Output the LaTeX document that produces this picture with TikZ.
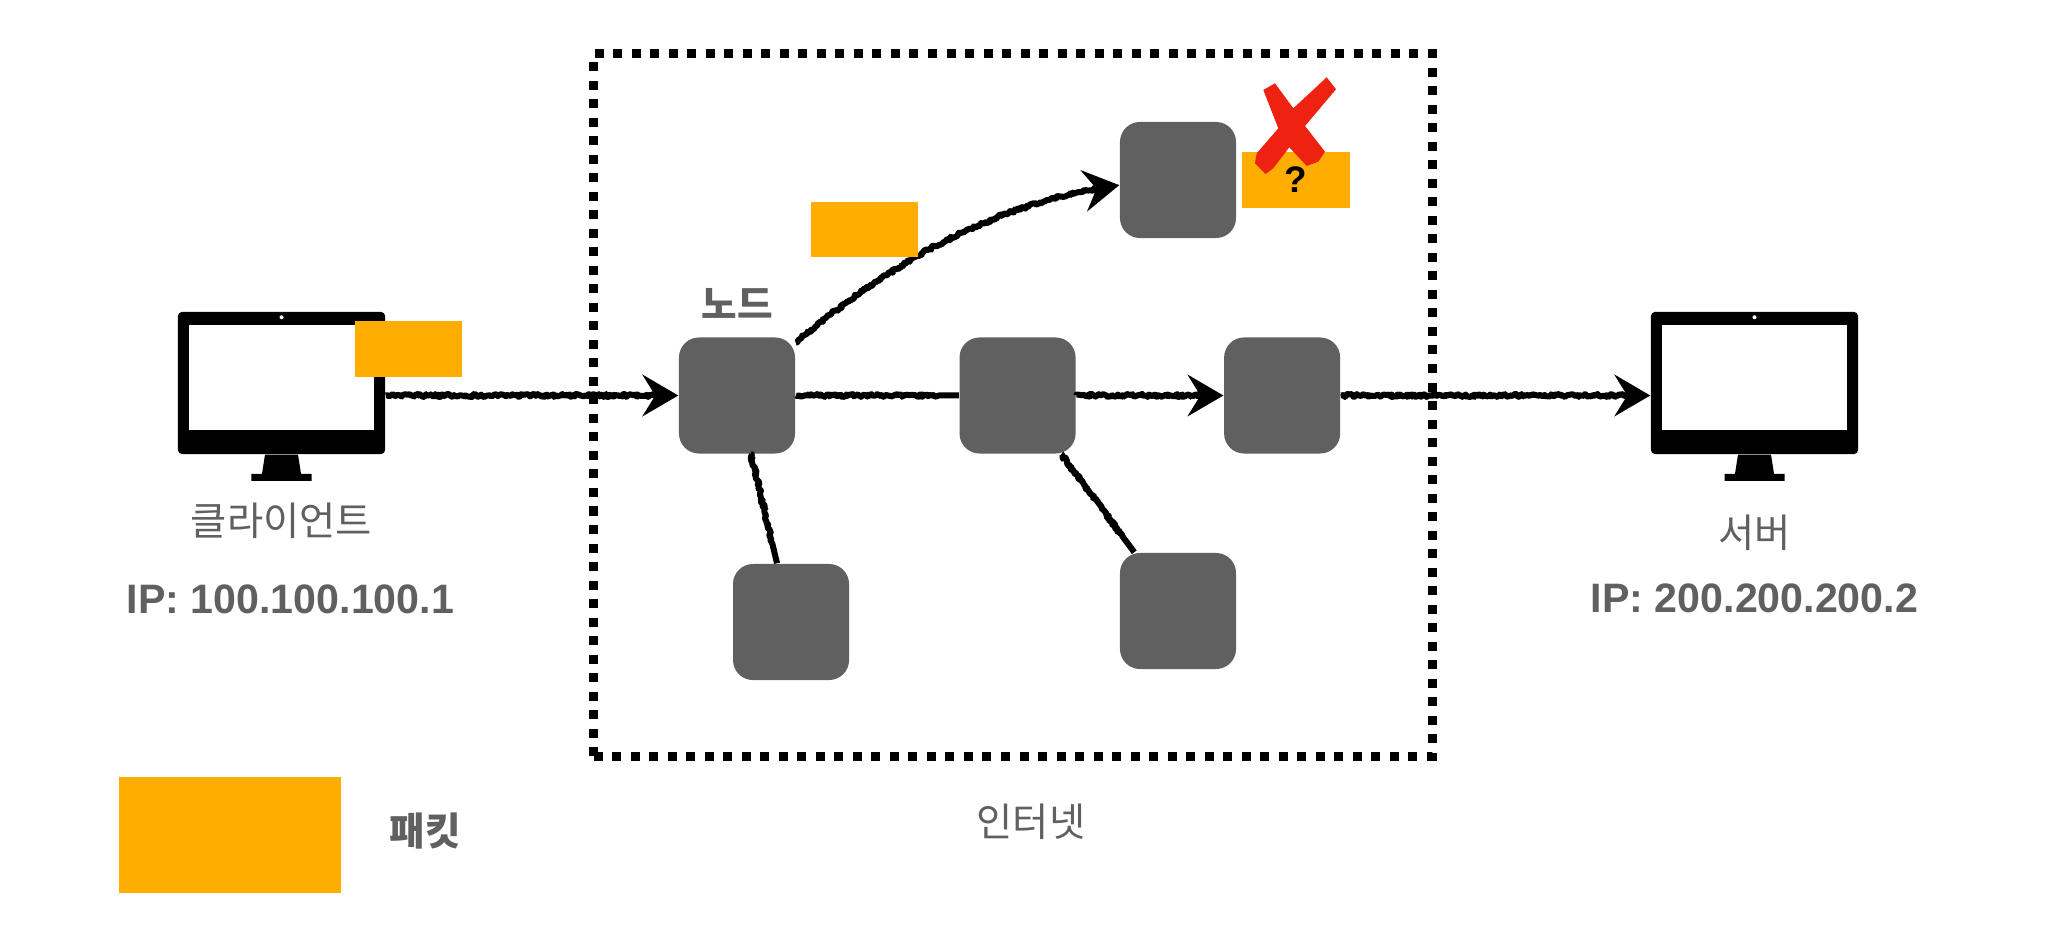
\documentclass[tikz,border=0pt]{standalone}
\usepackage{fontspec}
\setmainfont{Liberation Sans}
\newfontfamily\krfont{Noto Sans CJK KR}
\usepackage{xcolor}
\usepackage{tikz}
\usetikzlibrary{arrows.meta,positioning,calc,decorations.pathmorphing}
\definecolor{packetorange}{RGB}{255,173,0}
\definecolor{nodegray}{RGB}{96,96,96}
\definecolor{crossred}{RGB}{238,34,17}
\newcommand{\monitor}[2]{%
  \node[monitorbox] (#1) at (#2) {};
  \node[screenbox, below=0.13cm of #1.north] (#1screen) {};
  \fill[white] ([yshift=-0.06cm]#1.north) circle (0.02cm);
  \fill ([xshift=-0.165cm]#1.south) -- ([xshift=0.165cm]#1.south)
        -- ([shift={(0.195cm,-0.19cm)}]#1.south) -- ([shift={(0.3cm,-0.19cm)}]#1.south)
        -- ([shift={(0.3cm,-0.26cm)}]#1.south) -- ([shift={(-0.3cm,-0.26cm)}]#1.south)
        -- ([shift={(-0.3cm,-0.19cm)}]#1.south) -- ([shift={(-0.195cm,-0.19cm)}]#1.south) -- cycle;
}

\begin{document}
\begin{tikzpicture}[
      x=0.01cm, y=-0.01cm,
      netnode/.style={fill=nodegray, rounded corners=0.2cm, inner sep=0pt, minimum size=1.16cm},
      packet/.style={fill=packetorange, inner sep=0pt, minimum width=1.07cm, minimum height=0.55cm},
      monitorbox/.style={fill=black, rounded corners=0.04cm, inner sep=0pt, minimum width=2.07cm, minimum height=1.42cm},
      screenbox/.style={fill=white, inner sep=0pt, minimum width=1.84cm, minimum height=1.05cm},
      netframe/.style={draw=black, line width=0.09cm, dash pattern=on 0.09cm off 0.095cm, inner sep=0pt,
                  minimum width=8.38cm, minimum height=7.02cm},
      label/.style={text=nodegray, inner sep=0pt, font=\krfont\fontsize{11.2}{13}\selectfont},
      boldlabel/.style={text=nodegray, inner sep=0pt, font=\krfont\bfseries\fontsize{11}{13}\selectfont},
      iplabel/.style={text=nodegray, inner sep=0pt, font=\bfseries\fontsize{11.7}{14}\selectfont},
      line/.style={line width=0.06cm, draw=black, line join=round, decorate,
                  decoration={random steps, segment length=0.015cm, amplitude=0.015cm,
                  post=lineto, post length=0.2cm}},
      arrow/.style={line, -{Stealth[length=0.36cm, width=0.42cm, inset=0.13cm, line width=0.02cm]}},
      crossmark/.style={fill=crossred}
    ]
      \pgfmathsetseed{7}
      \useasboundingbox (0,0) rectangle (2048,925);

      \node[netframe] (net) at (1013,405) {};
      \node[label, below=0.42cm of net, xshift=0.18cm] (netlabel) {인터넷};

      % nodes
      \node[netnode] (a) at (737,395.5) {};
      \node[netnode, right=1.63cm of a] (mid) {};
      \node[netnode, right=1.47cm of mid] (end) {};
      \node[netnode] (top) at (1178,180) {};
      \node[netnode, below=1.09cm of a.south east, anchor=north east, xshift=0.54cm] (leftleaf) {};
      \node[netnode] (rightleaf) at (1178,611) {};
      \node[boldlabel, above=0.18cm of a] (nodelabel) {노드};

      % client and server
      \monitor{client}{281.5,383}
      \monitor{server}{1754.5,383}
      \node[label, below=0.47cm of client.south] (clientlabel) {클라이언트};
      \node[iplabel, below=0.45cm of clientlabel, xshift=0.09cm] (clientip) {IP: 100.100.100.1};
      \node[label, below=0.59cm of server.south] (serverlabel) {서버};
      \node[iplabel, below=0.32cm of serverlabel] (serverip) {IP: 200.200.200.2};

      % connectors
      \draw[arrow] (a -| client.east) -- (a.west);
      \draw[line] (a) -- (mid);
      \draw[arrow] (mid) -- (end);
      \draw[arrow] (end) -- (end -| server.west);
      \draw[arrow] (a.42) to[out=40, in=188, looseness=0.9] (top.185);
      \draw[line] (a) -- (leftleaf);
      \draw[line] (mid) -- (rightleaf);

      % packets
      \node[packet] (clientpacket) at (408.5,349) {};
      \node[packet] (movingpacket) at (864.5,229.5) {};
      \node[packet, right=0.05cm of top, font=\bfseries\fontsize{10.5}{12}\selectfont] (lostpacket) {?};
      \node[packet, minimum width=2.22cm, minimum height=1.16cm] (legend) at (230,835) {};
      \node[boldlabel, right=0.47cm of legend, yshift=0.04cm] (legendlabel) {패킷};

      % cross over the lost packet
      \fill[crossmark] (1263.3,90) -- (1275,83.3) -- (1293.3,108.3) -- (1305,126) -- (1325,151.7) -- (1318.3,161.7)
        -- (1306.7,166) -- (1289.3,147.3) -- (1278.3,128.3) -- cycle;
      \fill[crossmark] (1326.7,77.3) -- (1336,89.3) -- (1305,126) -- (1289.3,147.3) -- (1273.3,168.3) -- (1265.7,174)
        -- (1255,163.3) -- (1256.7,153.3) -- (1278.3,128.3) -- (1293.3,108.3) -- cycle;
    \end{tikzpicture}
\end{document}
